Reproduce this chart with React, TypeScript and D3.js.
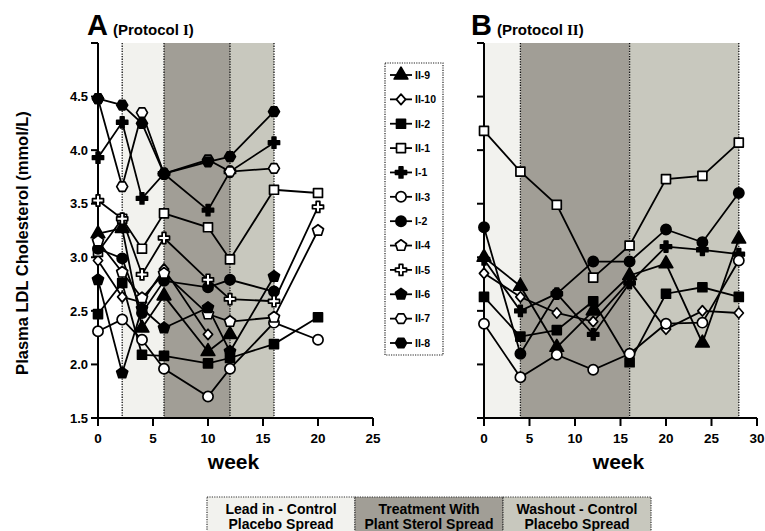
import React from 'react';
import * as d3 from 'd3';

// ---------- data ----------
const weeksA = [0, 2.2, 4, 6, 10, 12, 16, 20];
const weeksB = [0, 4, 8, 12, 16, 20, 24, 28];

const seriesNames = ['II-9', 'II-10', 'II-2', 'II-1', 'I-1', 'II-3', 'I-2', 'II-4', 'II-5', 'II-6', 'II-7', 'II-8'];
const seriesShapes = ['triangle', 'diamond', 'square', 'square', 'cross', 'circle', 'circle', 'pentagon', 'cross', 'pentagon', 'hexagon', 'hexagon'];
const seriesFilled = [true, false, true, false, true, false, true, false, false, true, false, true];

// Panel A (Protocol I)
const aII9 = [3.22, 3.27, 2.34, 2.64, 2.12, 2.28, null, null];
const aII10 = [2.97, 2.63, 2.58, 2.89, 2.28, null, null, null];
const aII2 = [2.47, 2.76, 2.09, 2.08, 2.01, 2.06, 2.19, 2.44];
const aII1 = [3.05, 3.36, 3.08, 3.41, 3.28, 2.98, 3.63, 3.6];
const aI1 = [3.93, 4.26, 3.55, 3.78, 3.44, 3.8, 4.07, null];
const aII3 = [2.31, 2.42, 2.23, 1.96, 1.7, 1.96, 2.39, 2.23];
const aI2 = [3.08, 2.99, 2.48, 2.78, 2.72, 2.79, 2.68, null];
const aII4 = [3.15, 2.86, 2.62, 2.85, 2.47, 2.4, 2.44, 3.25];
const aII5 = [3.53, 3.36, 2.84, 3.18, 2.79, 2.61, 2.59, 3.47];
const aII6 = [2.79, 1.92, 2.52, 2.34, 2.53, 2.12, 2.82, null];
const aII7 = [4.48, 3.66, 4.35, 3.78, 3.91, 3.8, 3.83, null];
const aII8 = [4.48, 4.42, 4.25, 3.78, 3.89, 3.94, 4.36, null];

// Panel B (Protocol II)
const bII9 = [3.0, 2.73, 2.16, 2.5, 2.83, 2.94, 2.2, 3.17];
const bII10 = [2.85, 2.63, 2.48, 2.4, 2.78, 2.33, 2.5, 2.48];
const bII2 = [2.63, 2.26, 2.32, 2.59, 2.02, 2.66, 2.72, 2.63];
const bII1 = [4.18, 3.8, 3.49, 2.81, 3.11, 3.73, 3.76, 4.07];
const bI1 = [2.98, 2.5, 2.66, 2.28, 2.76, 3.1, 3.07, 3.03];
const bII3 = [2.38, 1.88, 2.09, 1.95, 2.1, 2.38, 2.39, 2.97];
const bI2 = [3.28, 2.1, 2.66, 2.96, 2.96, 3.26, 3.14, 3.6];

const panelAValues = [aII9, aII10, aII2, aII1, aI1, aII3, aI2, aII4, aII5, aII6, aII7, aII8];
const panelBValues = [bII9, bII10, bII2, bII1, bI1, bII3, bI2, null, null, null, null, null];

// phases: [start, end] weeks, kind 0 = lead in, 1 = treatment, 2 = washout
const phasesA = [[2.2, 6], [6, 12], [12, 16]];
const phasesB = [[0, 4], [4, 16], [16, 28]];
const phaseLabels = [['Lead in - Control', 'Placebo Spread'], ['Treatment With', 'Plant Sterol Spread'], ['Washout  - Control', 'Placebo Spread']];

const yTicks = [1.5, 2, 2.5, 3, 3.5, 4, 4.5, 5];
const yTickLabels = ['1.5', '2.0', '2.5', '3.0', '3.5', '4.0', '4.5', ''];
const xTicksA = [0, 5, 10, 15, 20, 25];
const xTicksB = [0, 5, 10, 15, 20, 25, 30];

// ---------- styles ----------
const phaseColors = ['#f2f2ee', '#a19e96', '#c8c8be'];
const FONT = 'Arial, "Liberation Sans", Helvetica, sans-serif';

function polygon(n: number, r: number, start: number) {
  const pts: string[] = [];
  for (let k = 0; k < n; k++) {
    const a = start + (k * 2 * Math.PI) / n;
    pts.push(`${(r * Math.cos(a)).toFixed(2)},${(r * Math.sin(a)).toFixed(2)}`);
  }
  return 'M' + pts.join('L') + 'Z';
}

function markerPath(shape: string): string {
  switch (shape) {
    case 'circle':
      return d3.symbol(d3.symbolCircle, 82)() as string;
    case 'square':
      return d3.symbol(d3.symbolSquare, 80)() as string;
    case 'triangle':
      return d3.symbol(d3.symbolTriangle, 80)() as string;
    case 'cross':
      return d3.symbol(d3.symbolCross, 68)() as string;
    case 'diamond':
      return 'M0,-5.2L4.6,0L0,5.2L-4.6,0Z';
    case 'pentagon':
      return polygon(5, 5.8, -Math.PI / 2);
    case 'hexagon':
      return polygon(6, 5.5, 0);
    default:
      return '';
  }
}

const y = d3.scaleLinear().domain([1.5, 5]).range([418, 43]);

type PanelProps = {
  x: d3.ScaleLinear<number, number>;
  weeks: number[];
  values: any[];
  phases: number[][];
  xTicks: number[];
  showYLabels: boolean;
};

function Panel({ x, weeks, values, phases, xTicks, showYLabels }: PanelProps) {
  const x0 = x.range()[0];
  const x1 = x.range()[1];
  const line = d3
    .line<[number, number | null]>()
    .defined((d) => d[1] != null)
    .x((d) => x(d[0]))
    .y((d) => y(d[1] as number));
  const list = values.map((vals, i) => ({ vals, i })).filter((s) => s.vals != null);
  const edges = Array.from(new Set(phases.flat())).filter((w) => x(w) > x0 + 1);
  return (
    <g>
      {phases.map((p, k) => (
        <rect key={'ph' + k} x={x(p[0])} y={y(5)} width={x(p[1]) - x(p[0])} height={y(1.5) - y(5)} fill={phaseColors[k]} />
      ))}
      {edges.map((w, k) => (
        <line key={'ed' + k} x1={x(w)} x2={x(w)} y1={y(5)} y2={y(1.5)} stroke="#111" strokeWidth={1.3} strokeDasharray="1.3,1.3" />
      ))}
      {/* axes */}
      <line x1={x0} x2={x0} y1={y(5)} y2={y(1.5)} stroke="#000" strokeWidth={2} />
      <line x1={x0} x2={x1} y1={y(1.5)} y2={y(1.5)} stroke="#000" strokeWidth={2} />
      {yTicks.map((t, k) => (
        <g key={'yt' + k}>
          <line x1={x0 - 7} x2={x0} y1={y(t)} y2={y(t)} stroke="#000" strokeWidth={2} />
          {showYLabels && (
            <text x={x0 - 10} y={y(t)} dy="0.36em" textAnchor="end" fontFamily={FONT} fontWeight="bold" fontSize={13}>
              {yTickLabels[k]}
            </text>
          )}
        </g>
      ))}
      {xTicks.map((t, k) => (
        <g key={'xt' + k}>
          <line x1={x(t)} x2={x(t)} y1={y(1.5)} y2={y(1.5) + 8} stroke="#000" strokeWidth={2} />
          <text x={x(t)} y={443} textAnchor="middle" fontFamily={FONT} fontWeight="bold" fontSize={13.5}>
            {String(t)}
          </text>
        </g>
      ))}
      <text x={(x0 + x1) / 2 - 2} y={469} textAnchor="middle" fontFamily={FONT} fontWeight="bold" fontSize={21}>
        week
      </text>
      {/* lines */}
      {list.map((s) => (
        <path
          key={'ln' + s.i}
          d={line(weeks.map((w, j) => [w, s.vals[j]] as [number, number | null])) || ''}
          fill="none"
          stroke="#000"
          strokeWidth={1.8}
        />
      ))}
      {/* markers */}
      {list.map((s) =>
        weeks.map((w, j) =>
          s.vals[j] == null ? null : (
            <path
              key={'mk' + s.i + '-' + j}
              d={markerPath(seriesShapes[s.i])}
              transform={`translate(${x(w)},${y(s.vals[j])})`}
              fill={seriesFilled[s.i] ? '#000' : '#fff'}
              stroke="#000"
              strokeWidth={1.7}
              strokeLinejoin="round"
            />
          )
        )
      )}
    </g>
  );
}

export default function App() {
  const xA = d3.scaleLinear().domain([0, 25]).range([98, 373]);
  const xB = d3.scaleLinear().domain([0, 30]).range([484, 757]);
  const legendY = d3.scaleLinear().domain([0, seriesNames.length - 1]).range([75, 343]);
  const boxX = d3.scaleLinear().domain([0, 3]).range([207, 651]);
  return (
    <svg width={765} height={531} style={{ position: 'absolute', left: 0, top: 0, background: '#fff' }}>
      <rect x={0} y={0} width={765} height={531} fill="#fff" />
      <Panel x={xA} weeks={weeksA} values={panelAValues} phases={phasesA} xTicks={xTicksA} showYLabels={true} />
      <Panel x={xB} weeks={weeksB} values={panelBValues} phases={phasesB} xTicks={xTicksB} showYLabels={false} />

      {/* titles */}
      <text x={87} y={35} fontFamily={FONT} fontWeight="bold" fontSize={29}>A</text>
      <text x={113} y={35} fontFamily={FONT} fontWeight="bold" fontSize={15}>
        (Protocol <tspan fontFamily='"Liberation Serif", "DejaVu Serif", serif'>I</tspan>)
      </text>
      <text x={471} y={35} fontFamily={FONT} fontWeight="bold" fontSize={29}>B</text>
      <text x={497} y={35} fontFamily={FONT} fontWeight="bold" fontSize={15}>
        (Protocol <tspan fontFamily='"Liberation Serif", "DejaVu Serif", serif'>II</tspan>)
      </text>

      {/* y axis title */}
      <text transform="translate(28,243) rotate(-90)" textAnchor="middle" fontFamily={FONT} fontWeight="bold" fontSize={16.5}>
        Plasma LDL Cholesterol (mmol/L)
      </text>

      {/* legend */}
      <rect x={385} y={63} width={58} height={292} fill="#fff" stroke="#222" strokeWidth={1.2} strokeDasharray="1.2,1.2" />
      {seriesNames.map((n, i) => (
        <g key={'lg' + i} transform={`translate(0,${legendY(i)})`}>
          <line x1={390} x2={412} y1={0} y2={0} stroke="#000" strokeWidth={1.8} />
          <path d={markerPath(seriesShapes[i])} transform="translate(401,0)" fill={seriesFilled[i] ? '#000' : '#fff'} stroke="#000" strokeWidth={1.7} strokeLinejoin="round" />
          <text x={415} y={0} dy="0.36em" fontFamily={FONT} fontWeight="bold" fontSize={10.5}>
            {n}
          </text>
        </g>
      ))}

      {/* phase legend boxes */}
      {phaseLabels.map((lbl, k) => (
        <g key={'pb' + k}>
          <rect x={boxX(k)} y={497} width={boxX(k + 1) - boxX(k)} height={40} fill={phaseColors[k]} stroke="#333" strokeWidth={1.2} strokeDasharray="1.2,1.2" />
          <text x={(boxX(k) + boxX(k + 1)) / 2} y={514} textAnchor="middle" fontFamily={FONT} fontWeight="bold" fontSize={14}>
            {lbl[0]}
          </text>
          <text x={(boxX(k) + boxX(k + 1)) / 2} y={528.5} textAnchor="middle" fontFamily={FONT} fontWeight="bold" fontSize={14}>
            {lbl[1]}
          </text>
        </g>
      ))}
    </svg>
  );
}
